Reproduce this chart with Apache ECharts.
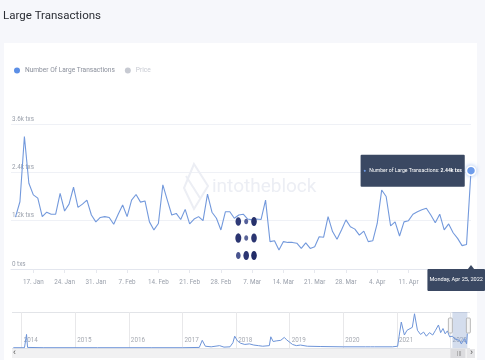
<!DOCTYPE html>
<html>
<head>
<meta charset="utf-8">
<script src="https://cdn.jsdelivr.net/npm/echarts@6/dist/echarts.min.js"></script>
<style>
html,body{margin:0;padding:0;background:#f6f7fb;}
#chart{width:485px;height:360px;}
</style>
</head>
<body>
<div id="chart"></div>
<script>
// ---------- DATA ----------
const titleText = 'Large Transactions';
const seriesName = 'Number Of Large Transactions';
const priceName = 'Price';
const startDate = '2022-01-13';
// daily large transactions (thousands of txs), 13 Jan 2022 .. 25 Apr 2022
const txValues = [
  1.29,1.67,3.29,2.13,1.84,1.76,1.30,1.41,1.36,1.36,
  1.88,1.44,1.61,2.03,1.53,1.61,1.71,1.34,1.17,1.28,
  1.30,1.28,1.11,1.36,1.59,1.30,1.71,1.85,1.66,1.69,
  1.17,0.97,1.13,2.09,1.71,1.34,1.38,1.23,1.48,1.12,
  1.24,1.30,1.20,1.86,1.41,1.26,0.97,1.42,1.42,1.26,
  1.34,1.36,1.24,1.22,1.24,
  1.23,1.71,0.68,0.70,0.47,0.68,0.66,0.66,0.64,0.51,
  0.65,0.51,0.55,0.80,0.79,1.30,0.93,0.74,0.97,1.22,
  1.05,0.99,0.84,0.94,0.68,0.70,1.13,1.96,1.80,1.07,
  1.17,0.82,1.17,1.20,1.36,1.42,1.47,1.51,1.34,1.15,
  1.36,0.97,1.12,0.90,0.76,0.58,0.61,2.44
];
const weekTicks = ['2022-01-17','2022-01-24','2022-01-31','2022-02-07','2022-02-14','2022-02-21',
  '2022-02-28','2022-03-07','2022-03-14','2022-03-21','2022-03-28','2022-04-04','2022-04-11'];
const yTicks = [0, 1.2, 2.4, 3.6];
// navigator: full history (thousands of txs)
const navDates = ['2013-11-05','2014-01-20','2014-02-03','2014-02-10','2014-06-01','2015-06-01','2016-06-01',
  '2017-01-01','2017-04-25','2017-05-15','2017-06-05','2017-07-15','2017-09-10','2017-10-10','2017-11-20',
  '2017-12-10','2017-12-22','2018-01-10','2018-02-01','2018-03-01','2018-04-01','2018-05-01','2018-06-01',
  '2018-07-01','2018-08-15','2018-08-25','2018-09-10','2018-10-01','2018-11-01','2018-11-25','2018-12-10',
  '2019-01-20','2019-02-15','2019-03-15','2019-05-01','2019-08-01','2020-01-01','2020-06-01','2020-07-05',
  '2020-07-15','2020-08-01','2020-12-01','2021-01-05','2021-01-15','2021-01-30','2021-02-20','2021-03-10',
  '2021-04-15','2021-04-30','2021-05-20','2021-06-10','2021-07-01','2021-07-20','2021-08-10','2021-09-01',
  '2021-09-20','2021-10-10','2021-10-25','2021-11-10','2021-11-25','2021-12-10','2021-12-25','2022-01-13',
  '2022-02-01','2022-03-01','2022-03-15','2022-04-05','2022-04-20','2022-04-25'];
const navValues = [0.05,0.05,2.3,0.1,0.05,0.05,0.05,
  0.05,0.1,1.3,0.3,0.2,0.4,0.15,0.2,
  0.9,2.0,1.2,0.8,0.6,0.7,0.5,0.4,
  0.3,0.4,1.9,1.1,1.2,1.3,1.8,1.4,
  0.6,0.4,0.5,0.3,0.25,0.2,0.2,0.2,
  0.5,0.2,0.2,0.3,2.0,4.4,2.2,3.0,
  3.5,5.8,3.0,2.3,2.7,2.0,2.6,2.2,
  3.0,3.9,2.6,3.3,2.4,2.9,1.9,2.0,
  1.5,1.3,0.7,1.6,0.7,2.44];
const yearTicks = ['2014-01-01','2015-01-01','2016-01-01','2017-01-01','2018-01-01',
  '2019-01-01','2020-01-01','2021-01-01','2022-01-01'];

// ---------- HELPERS ----------
const DAY = 86400000;
const ts = s => Date.parse(s + 'T00:00:00Z');
function buildDates(start, n) {
  const out = [];
  for (let i = 0; i < n; i++) out.push(new Date(ts(start) + i * DAY).toISOString().slice(0, 10));
  return out;
}
const dates = buildDates(startDate, txValues.length);
const MONTHS = ['Jan','Feb','Mar','Apr','May','Jun','Jul','Aug','Sep','Oct','Nov','Dec'];
const DAYS = ['Sunday','Monday','Tuesday','Wednesday','Thursday','Friday','Saturday'];
const FONT = 'Roboto, "Liberation Sans", sans-serif';

const lastDate = dates[dates.length - 1];
const lastVal = txValues[txValues.length - 1];
const selStart = dates[0];

const chart = echarts.init(document.getElementById('chart'), null, {renderer: 'canvas'});

const dotColors = ['#2f3b78','#55609a','#27316c','#2b3571','#5a6498','#2b3571','#4a558f','#2c3672','#222c67'];
const dotSizes = [[2.8,4.3],[2.0,2.8],[2.8,4.6],[3.0,4.8],[2.0,2.8],[2.8,4.6],[2.3,3.6],[2.8,4.6],[2.8,4.6]];
const dotGraphics = [];
const dcx = [238.3, 246.2, 254];
const dcy = [221.5, 238, 255.5];
for (let r = 0; r < 3; r++) for (let c = 0; c < 3; c++) {
  const k = r * 3 + c;
  dotGraphics.push({type: 'ellipse', id: 'dot' + k, z: 20, silent: true,
    shape: {cx: dcx[c], cy: dcy[r], rx: dotSizes[k][0], ry: dotSizes[k][1]},
    style: {fill: dotColors[k]}});
}

const option = {
  animation: false,
  backgroundColor: '#f6f7fb',
  textStyle: {fontFamily: FONT},
  title: {
    text: titleText, left: 3, top: 10, padding: 0,
    textStyle: {fontSize: 11.5, fontWeight: 'normal', color: '#2a2d34', fontFamily: FONT}
  },
  legend: {
    left: 14, top: 67, padding: 0, itemWidth: 6, itemHeight: 6, itemGap: 10, icon: 'circle',
    textStyle: {fontSize: 6.6, color: '#8a8f9b', fontFamily: FONT},
    inactiveColor: '#c7cad2',
    selected: {[priceName]: false},
    data: [seriesName, priceName]
  },
  grid: [
    {left: 11, right: 14, top: 124, height: 145},
    {left: 12, right: 15, top: 312, height: 36}
  ],
  xAxis: [
    {
      type: 'value', gridIndex: 0, scale: true,
      min: ts('2022-01-12'), max: ts(lastDate),
      axisLine: {show: true, onZero: false, lineStyle: {color: '#e3e6ee'}},
      axisTick: {show: true, length: 4, lineStyle: {color: '#e6e8ee'}, customValues: weekTicks.map(ts)},
      axisLabel: {
        customValues: weekTicks.map(ts), fontSize: 6.3, color: '#9aa0ab', margin: 10, fontFamily: FONT,
        formatter: v => { const d = new Date(v); return d.getUTCDate() + '. ' + MONTHS[d.getUTCMonth()]; }
      },
      splitLine: {show: false},
      axisPointer: {
        show: true, status: 'show', value: ts(lastDate), type: 'line', triggerTooltip: false,
        lineStyle: {opacity: 0},
        label: {
          show: true, backgroundColor: '#3a4862', color: '#ffffff', fontSize: 5.6, margin: 0,
          padding: [8, 2, 8, 2], borderRadius: 1, fontFamily: FONT,
          formatter: p => { const d = new Date(p.value);
            return DAYS[d.getUTCDay()] + ', ' + MONTHS[d.getUTCMonth()] + ' ' + d.getUTCDate() + ', ' + d.getUTCFullYear(); }
        }
      }
    },
    {
      type: 'value', gridIndex: 1, scale: true,
      min: ts('2013-10-27'), max: ts('2022-05-13'),
      axisLine: {show: false, onZero: false},
      axisTick: {show: false, customValues: yearTicks.map(ts)},
      axisLabel: {
        customValues: yearTicks.map(ts), inside: true, align: 'left', fontSize: 6.3, color: '#a5a9b1',
        margin: 5, padding: [0, 0, 0, 2], fontFamily: FONT,
        formatter: v => String(new Date(v).getUTCFullYear())
      },
      splitLine: {show: true, lineStyle: {color: '#e8e8ea', width: 1}},
      axisPointer: {show: false}
    }
  ],
  yAxis: [
    {
      type: 'value', gridIndex: 0, min: yTicks[0], max: yTicks[yTicks.length - 1], interval: 1.2,
      axisLine: {show: false}, axisTick: {show: false},
      splitLine: {lineStyle: {color: '#eff1f6'}},
      axisLabel: {
        inside: true, margin: 1, verticalAlign: 'bottom', padding: [0, 0, 2, 0],
        fontSize: 6.3, color: '#9aa0ab', fontFamily: FONT,
        formatter: v => (Math.abs(v) < 1e-9 ? '0 txs' : v.toFixed(1) + 'k txs')
      }
    },
    {
      type: 'value', gridIndex: 1, min: 0, max: 6.1, interval: 6.1,
      axisLine: {show: false}, axisTick: {show: false}, axisLabel: {show: false},
      splitLine: {show: true, lineStyle: {color: '#e2e4e8'}}
    }
  ],
  series: [
    {
      name: seriesName, type: 'line', xAxisIndex: 0, yAxisIndex: 0,
      data: dates.map((d, i) => [ts(d), txValues[i]]),
      showSymbol: false, symbol: 'none',
      lineStyle: {color: '#7399dc', width: 1.1},
      itemStyle: {color: '#5c8fe6'},
      z: 5
    },
    {
      name: priceName, type: 'line', xAxisIndex: 0, yAxisIndex: 0, data: [],
      itemStyle: {color: '#c7cad2'}, lineStyle: {color: '#c7cad2'}
    },
    {
      name: 'lastPoint', type: 'scatter', xAxisIndex: 0, yAxisIndex: 0,
      data: [[ts(lastDate), lastVal]],
      symbol: 'circle', symbolSize: 9,
      itemStyle: {color: '#6f9deb', opacity: 1, borderColor: '#ffffff', borderWidth: 1.5,
        shadowColor: 'rgba(111,157,235,0.55)', shadowBlur: 4},
      label: {
        show: true, position: 'left', distance: 1, opacity: 1,
        backgroundColor: '#3a4862', padding: [10, 3, 10, 3], borderRadius: 1,
        formatter: p => '{d|●} {t|Number of Large Transactions: }{b|' + p.value[1].toFixed(2) + 'k txs}',
        rich: {
          d: {color: '#6f9deb', fontSize: 4.5, fontFamily: FONT},
          t: {color: '#ffffff', fontSize: 5.1, fontFamily: FONT},
          b: {color: '#ffffff', fontSize: 5.1, fontWeight: 'bold', fontFamily: FONT}
        }
      },
      z: 10
    },
    {
      name: 'navigator', type: 'line', xAxisIndex: 1, yAxisIndex: 1,
      data: navDates.map((d, i) => [ts(d), navValues[i]]),
      showSymbol: false, symbol: 'none',
      lineStyle: {color: '#6d94d8', width: 1},
      markArea: {
        silent: true,
        itemStyle: {color: 'rgba(120,148,200,0.32)'},
        data: [[{xAxis: ts(selStart), yAxis: 0}, {xAxis: ts(lastDate), yAxis: 6.1}]]
      }
    }
  ],
  graphic: [
    {type: 'rect', id: 'card', z: -10, silent: true,
      shape: {x: 4, y: 43, width: 473, height: 320}, style: {fill: '#ffffff'}},
    {type: 'text', id: 'wm', z: 1, silent: true, left: 212, top: 178,
      style: {text: 'intotheblock', fontSize: 19, fontFamily: FONT, fill: '#eceef4'}},
    {type: 'polygon', id: 'wmlogo', z: 1, silent: true,
      shape: {points: [[194, 164], [208, 186], [194, 209], [184, 188]]},
      style: {fill: 'none', stroke: '#eceef4', lineWidth: 2}},
    {type: 'polyline', id: 'wmlogo2', z: 1, silent: true,
      shape: {points: [[186, 176], [200, 198]]},
      style: {stroke: '#eceef4', lineWidth: 2}},
    ...dotGraphics
  ]
};
chart.setOption(option);

// UI chrome (navigator handles, scrollbar, pointer arrow) placed through the axes
const xs = chart.convertToPixel({xAxisIndex: 1}, ts(selStart));
const xe = chart.convertToPixel({xAxisIndex: 1}, ts(lastDate));
const px = chart.convertToPixel({xAxisIndex: 0}, ts(lastDate));
const axisY = 269;
chart.setOption({
  graphic: [
    {type: 'rect', id: 'scroll', z: 5, silent: true, shape: {x: 12, y: 349, width: 463, height: 9}, style: {fill: '#f1f1f2'}},
    {type: 'rect', id: 'scrollR', z: 6, silent: true, shape: {x: 467, y: 349, width: 8, height: 9}, style: {fill: '#e6e6e8'}},
    {type: 'rect', id: 'thumb', z: 6, silent: true, shape: {x: xs - 2, y: 349, width: xe - xs, height: 9}, style: {fill: '#dcdcdf'}},
    {type: 'text', id: 'thumbTxt', z: 7, silent: true, x: (xs + xe) / 2 - 3, y: 350, style: {text: '|||', fontSize: 6, fill: '#8a8a8a'}},
    {type: 'text', id: 'arrL', z: 7, silent: true, x: 13, y: 348, style: {text: '‹', fontSize: 9, fill: '#555'}},
    {type: 'text', id: 'arrR', z: 7, silent: true, x: 470, y: 348, style: {text: '›', fontSize: 9, fill: '#555'}},
    {type: 'rect', id: 'hL', z: 8, silent: true, shape: {x: xs - 4, y: 318, width: 4, height: 15, r: 1}, style: {fill: '#f4f4f4', stroke: '#a9a9a9', lineWidth: 0.8}},
    {type: 'rect', id: 'hR', z: 8, silent: true, shape: {x: xe - 1, y: 318, width: 4, height: 15, r: 1}, style: {fill: '#f4f4f4', stroke: '#a9a9a9', lineWidth: 0.8}},
    {type: 'polygon', id: 'ptrArrow', z: 20, silent: true,
      shape: {points: [[px - 3.5, axisY + 0.5], [px + 3.5, axisY + 0.5], [px, axisY - 4]]}, style: {fill: '#3a4862'}}
  ]
});
</script>
</body>
</html>
